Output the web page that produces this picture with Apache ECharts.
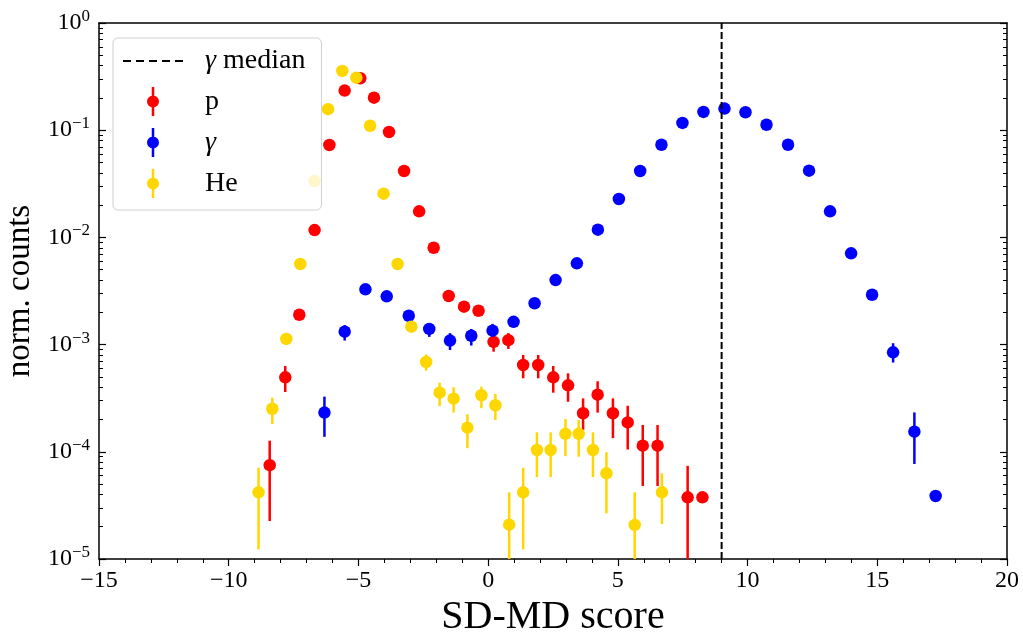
<!DOCTYPE html>
<html><head><meta charset="utf-8">
<script src="https://cdn.jsdelivr.net/npm/echarts@6/dist/echarts.min.js"></script>
<style>html,body{margin:0;padding:0;background:#fff}#c{width:1023px;height:635px}</style>
</head><body><div id="c"></div>
<script>
// ---- data: p (protons)
const pX  = [-8.42,-7.82,-7.28,-6.69,-6.12,-5.53,-4.93,-4.40,-3.82,-3.24,-2.66,-2.10,-1.52,-0.93,-0.37,0.21,0.78,1.35,1.93,2.51,3.08,3.66,4.22,4.81,5.38,5.96,6.53,7.69,8.26];
const pY  = [7.5e-5,4.95e-4,1.9e-3,1.17e-2,7.28e-2,0.234,0.305,0.201,0.0962,0.0416,0.0175,8.0e-3,2.84e-3,2.26e-3,2.07e-3,1.06e-3,1.1e-3,6.45e-4,6.45e-4,4.95e-4,4.17e-4,2.29e-4,3.41e-4,2.29e-4,1.88e-4,1.14e-4,1.14e-4,3.76e-5,3.76e-5];
const pLo = [2.26e-5,3.61e-4,1.75e-3,1.15e-2,7.2e-2,0.232,0.303,0.199,0.0953,0.0411,0.0172,7.8e-3,2.70e-3,2.13e-3,1.94e-3,8.59e-4,9.1e-4,4.85e-4,4.85e-4,3.56e-4,2.93e-4,1.60e-4,2.32e-4,1.34e-4,1.05e-4,4.8e-5,4.8e-5,1e-6,3.7e-5];
const pHi = [1.27e-4,6.31e-4,2.06e-3,1.19e-2,7.36e-2,0.236,0.307,0.203,0.0971,0.0421,0.0178,8.2e-3,2.98e-3,2.39e-3,2.20e-3,1.21e-3,1.28e-3,8.0e-4,8.0e-4,6.31e-4,5.4e-4,3.15e-4,4.55e-4,3.15e-4,2.69e-4,1.78e-4,1.78e-4,7.4e-5,3.8e-5];
// ---- data: gamma
const gX  = [-6.31,-5.53,-4.73,-3.91,-3.06,-2.27,-1.47,-0.65,0.17,0.98,1.79,2.60,3.42,4.23,5.04,5.86,6.68,7.49,8.30,9.11,9.92,10.73,11.56,12.37,13.18,13.99,14.80,15.61,16.43,17.25];
const gY  = [2.32e-4,1.32e-3,3.28e-3,2.82e-3,1.86e-3,1.40e-3,1.09e-3,1.21e-3,1.35e-3,1.63e-3,2.43e-3,4.0e-3,5.73e-3,0.0118,0.0228,0.0416,0.0732,0.117,0.148,0.159,0.147,0.1125,0.0732,0.0419,0.0175,7.1e-3,2.92e-3,8.47e-4,1.54e-4,3.87e-5];
const gLo = [1.38e-4,1.09e-3,3.1e-3,2.65e-3,1.7e-3,1.18e-3,8.9e-4,9.8e-4,1.13e-3,1.45e-3,2.3e-3,3.9e-3,5.6e-3,0.0116,0.0225,0.0412,0.0727,0.1165,0.1475,0.1585,0.1465,0.112,0.0728,0.0415,0.0172,6.9e-3,2.8e-3,6.8e-4,7.7e-5,3.8e-5];
const gHi = [3.27e-4,1.52e-3,3.46e-3,2.99e-3,2.02e-3,1.59e-3,1.28e-3,1.40e-3,1.56e-3,1.81e-3,2.56e-3,4.1e-3,5.86e-3,0.012,0.0231,0.042,0.0737,0.1175,0.1485,0.1595,0.1475,0.113,0.0736,0.0423,0.0178,7.3e-3,3.04e-3,1.03e-3,2.33e-4,3.95e-5];
// ---- data: He
const hX  = [-8.85,-8.32,-7.78,-7.24,-6.69,-6.17,-5.62,-5.08,-4.55,-4.03,-3.49,-2.96,-2.39,-1.87,-1.33,-0.80,-0.26,0.28,0.81,1.35,1.88,2.41,2.98,3.49,4.04,4.56,5.65,6.70];
const hY  = [4.19e-5,2.52e-4,1.13e-3,5.65e-3,0.0336,0.157,0.357,0.309,0.110,0.0256,5.65e-3,1.47e-3,6.88e-4,3.56e-4,3.13e-4,1.68e-4,3.37e-4,2.72e-4,2.09e-5,4.19e-5,1.04e-4,1.04e-4,1.47e-4,1.47e-4,1.04e-4,6.3e-5,2.08e-5,4.19e-5];
const hLo = [1.23e-5,1.82e-4,1.05e-3,5.5e-3,0.033,0.155,0.354,0.306,0.109,0.0252,5.45e-3,1.38e-3,5.7e-4,2.67e-4,2.32e-4,1.08e-4,2.55e-4,1.98e-4,1e-6,1.23e-5,5.8e-5,5.8e-5,9.1e-5,9.0e-5,5.8e-5,2.67e-5,1e-6,2.12e-5];
const hHi = [7.1e-5,3.2e-4,1.21e-3,5.8e-3,0.034,0.159,0.36,0.312,0.111,0.026,5.85e-3,1.56e-3,8.1e-4,4.41e-4,4.0e-4,2.24e-4,4.05e-4,3.46e-4,4.19e-5,7.1e-5,1.52e-4,1.52e-4,2.02e-4,1.98e-4,1.52e-4,9.9e-5,4.19e-5,6.3e-5];
// ---- reference line
const gammaMedian = 9.0;
// ---- axes
const xMin = -15, xMax = 20, xStep = 5;
const yMin = 1e-5, yMax = 1;
const legendNames = ['γ median', 'p', 'γ', 'He'];

const SERIF = '"Liberation Serif","DejaVu Serif",serif';
const RED = '#ff0000', BLUE = '#0000ff', GOLD = '#ffd700';
const ERRICON = 'path://M4.75,0H7.25V29H4.75Z M0,14.5A6,6 0 1,1 12,14.5A6,6 0 1,1 0,14.5Z';
const DASHICON = 'path://M0,0h8v2h-8z M13,0h8v2h-8z M26,0h8v2h-8z M39,0h8v2h-8z M52,0h8v2h-8z';

// minor tick positions (log10 units) for 2..9 x 10^k
const yMinorLog = [];
for (let k = -5; k < 0; k++) for (let m = 2; m <= 9; m++) yMinorLog.push(k + Math.log10(m));

function minus(v){ return v < 0 ? '\u2212' + Math.abs(v) : String(v); }

function errSeries(name, xs, lo, hi, color){
  return {
    type: 'custom', name: name, clip: true, silent: true, z: 2,
    data: xs.map((x, i) => [x, lo[i], hi[i]]),
    encode: { x: 0, y: [1, 2] },
    renderItem: (params, api) => {
      const x = api.value(0);
      const a = api.coord([x, api.value(1)]);
      const b = api.coord([x, api.value(2)]);
      return { type: 'line', shape: { x1: a[0], y1: a[1], x2: b[0], y2: b[1] },
               style: { stroke: color, lineWidth: 2.5 } };
    }
  };
}
function dotSeries(name, xs, ys, color){
  return {
    type: 'scatter', name: name, z: 2, symbol: 'circle', symbolSize: 12.5,
    itemStyle: { color: color, opacity: 1 },
    data: xs.map((x, i) => [x, ys[i]])
  };
}

const chart = echarts.init(document.getElementById('c'), null, { renderer: 'canvas' });
chart.setOption({
  animation: false,
  backgroundColor: '#fff',
  grid: { left: 99, right: 16, top: 23, bottom: 76, containLabel: false, outerBoundsMode: 'none' },
  xAxis: [
    { type: 'value', position: 'bottom', min: xMin, max: xMax, interval: xStep,
      name: 'SD-MD score', nameLocation: 'middle', nameGap: 34,
      nameTextStyle: { fontFamily: SERIF, fontSize: 40, color: '#000' },
      axisLine: { onZero: false, lineStyle: { color: '#000', width: 1.5 } },
      axisTick: { inside: false, length: 7, lineStyle: { color: '#000', width: 1.2 } },
      minorTick: { show: true, splitNumber: 5, length: 4, lineStyle: { color: '#000', width: 1 } },
      axisLabel: { fontFamily: SERIF, fontSize: 24, color: '#000', margin: 10, formatter: minus },
      splitLine: { show: false } },
    { type: 'value', position: 'top', min: xMin, max: xMax, interval: xStep,
      axisLine: { onZero: false, lineStyle: { color: '#000', width: 1.5 } },
      axisTick: { show: false }, axisLabel: { show: false }, splitLine: { show: false } }
  ],
  yAxis: [
    { type: 'log', logBase: 10, position: 'left', min: yMin, max: yMax,
      name: 'norm. counts', nameLocation: 'middle', nameGap: 53, nameRotate: 90,
      nameTextStyle: { fontFamily: SERIF, fontSize: 33, color: '#000' },
      axisLine: { onZero: false, lineStyle: { color: '#000', width: 1.5 } },
      axisTick: { inside: true, length: 7, lineStyle: { color: '#000', width: 1.2 } },
      axisLabel: { margin: 9, color: '#000',
        formatter: v => { const e = Math.round(Math.log10(v)); return '{b|10}{s|' + minus(e) + '}'; },
        rich: { b: { fontFamily: SERIF, fontSize: 24, color: '#000', lineHeight: 30 },
                s: { fontFamily: SERIF, fontSize: 17, color: '#000', verticalAlign: 'top', lineHeight: 18 } } },
      splitLine: { show: false } },
    { type: 'value', position: 'left', min: -5, max: 0, offset: 0,
      axisLine: { show: false, onZero: false },
      axisTick: { show: true, inside: true, length: 4, customValues: yMinorLog, lineStyle: { color: '#000', width: 1 } },
      axisLabel: { show: false }, splitLine: { show: false } },
    { type: 'log', logBase: 10, position: 'right', min: yMin, max: yMax,
      axisLine: { onZero: false, lineStyle: { color: '#000', width: 1.5 } },
      axisTick: { inside: true, length: 7, lineStyle: { color: '#000', width: 1.2 } },
      axisLabel: { show: false }, splitLine: { show: false } },
    { type: 'value', position: 'right', min: -5, max: 0, offset: 0,
      axisLine: { show: false, onZero: false },
      axisTick: { show: true, inside: true, length: 4, customValues: yMinorLog, lineStyle: { color: '#000', width: 1 } },
      axisLabel: { show: false }, splitLine: { show: false } }
  ],
  legend: {
    orient: 'vertical', left: 113, top: 38, padding: [9, 16, 12, 10],
    itemGap: 12, itemWidth: 60, itemHeight: 29,
    backgroundColor: 'rgba(255,255,255,0.8)', borderColor: '#d0d0d0', borderWidth: 1, borderRadius: 5,
    textStyle: { fontFamily: SERIF, fontSize: 28, color: '#000', padding: [0, 0, 0, 17],
      rich: { g: { fontFamily: SERIF, fontSize: 28, color: '#000', fontStyle: 'italic' } } },
    formatter: name => name.replace('γ', '{g|γ}'),
    data: [ { name: legendNames[0], icon: DASHICON, itemStyle: { color: '#000' } },
            { name: legendNames[1], icon: ERRICON },
            { name: legendNames[2], icon: ERRICON },
            { name: legendNames[3], icon: ERRICON } ]
  },
  series: [
    errSeries('p-err', pX, pLo, pHi, RED),
    dotSeries('p', pX, pY, RED),
    errSeries('γ-err', gX, gLo, gHi, BLUE),
    dotSeries('γ', gX, gY, BLUE),
    errSeries('He-err', hX, hLo, hHi, GOLD),
    dotSeries('He', hX, hY, GOLD),
    { type: 'line', name: 'γ median', symbol: 'none', z: 3, silent: true,
      itemStyle: { color: '#000' },
      data: [[gammaMedian, yMin], [gammaMedian, yMax]],
      lineStyle: { color: '#000', width: 2, type: [7, 3] } }
  ]
});
</script></body></html>
